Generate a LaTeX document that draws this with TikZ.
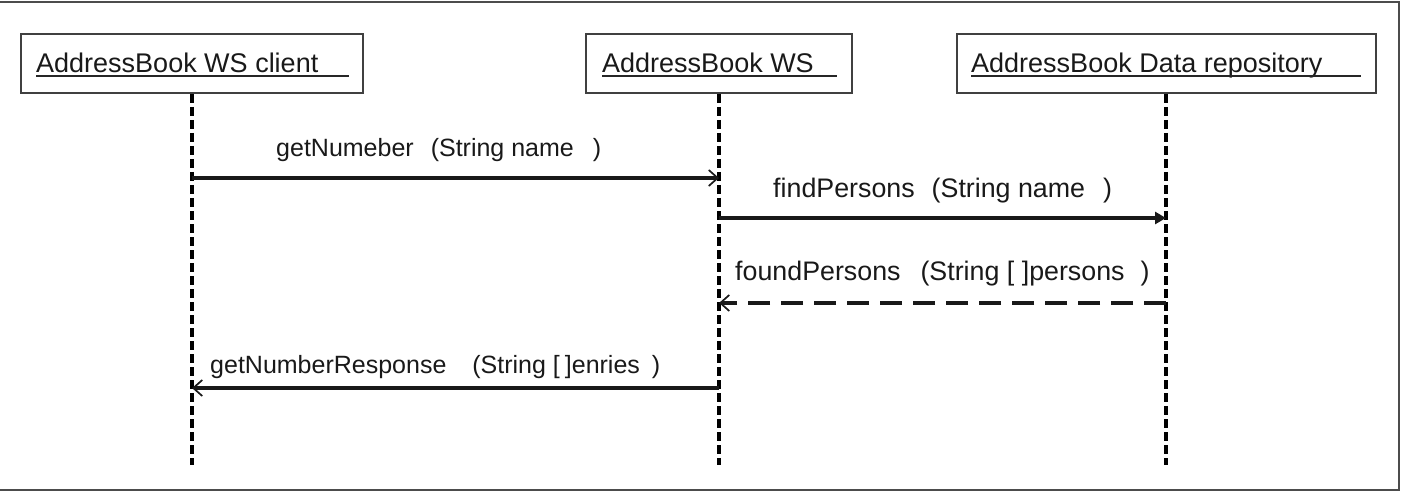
\documentclass[tikz,border=0pt]{standalone}
\usepackage{fontspec}
\setmainfont{Liberation Sans}
\usetikzlibrary{arrows.meta}
\begin{document}
\begin{tikzpicture}[x=1pt,y=-1pt,
  frame/.style={draw=black!70,line width=2.4pt},
  actor/.style={draw=black!75,line width=2pt,inner sep=0pt},
  atext/.style={anchor=base west,inner sep=0pt,font=\fontsize{27}{30}\selectfont,text=black!90},
  uline/.style={draw=black!85,line width=1.8pt},
  life/.style={draw=black,line width=3.2pt,dash pattern=on 9pt off 4pt},
  lbl/.style={anchor=base west,inner sep=0pt,font=\fontsize{25}{30}\selectfont,text=black!90},
  lblb/.style={anchor=base west,inner sep=0pt,font=\fontsize{26.8}{30}\selectfont,text=black!90},
  msg/.style={draw=black!90,line width=3.2pt},
  openhead/.style={-{Straight Barb[length=9pt,width=16pt,line width=1.7pt]}},
  fillhead/.style={-{Triangle[length=11pt,width=12pt]}},
  retdash/.style={dash pattern=on 22pt off 11pt,line width=3.8pt}
]
\useasboundingbox (0,0) rectangle (1401,492);
% outer frame
\coordinate (fTL) at (0,2);
\coordinate (fTR) at (1399,2);
\coordinate (fBR) at (1399,490);
\coordinate (fBL) at (0,490);
\draw[frame] (fTL) -- (fTR) -- (fBR) -- (fBL);

% actors
\node[actor,minimum width=342pt,minimum height=59pt] (c) at (192,63.5) {};
\node[actor,minimum width=266pt,minimum height=59pt] (ws) at (719,63.5) {};
\node[actor,minimum width=419pt,minimum height=59pt] (db) at (1166,63.5) {};

\node[atext] (ct) at (36,73) {AddressBook WS client};
\node[atext] (wst) at (602,73) {AddressBook WS};
\node[atext] (dbt) at (971,73) {AddressBook Data repository};
\draw[uline] ([yshift=-3pt]ct.base west) -- ++(313,0);
\draw[uline] ([yshift=-3pt]wst.base west) -- ++(235,0);
\draw[uline] ([yshift=-3pt]dbt.base west) -- ++(390,0);

% lifelines
\coordinate (cE) at (192,465);
\coordinate (wsE) at (719,465);
\coordinate (dbE) at (1166,465);
\draw[life] (c.south) -- (cE);
\draw[life] (ws.south) -- (wsE);
\draw[life] (db.south) -- (dbE);

% messages
\coordinate (m1a) at (c.south |- 0,178);
\coordinate (m1b) at (ws.south |- 0,178);
\draw[msg,openhead] (m1a) -- (m1b);
\node[lbl] (l1) at (276,157) {getNumeber\hspace{17pt}(String name\hspace{19pt})};

\coordinate (m2a) at (ws.south |- 0,218);
\coordinate (m2b) at (db.south |- 0,218);
\draw[msg,fillhead] (m2a) -- (m2b);
\node[lblb] (l2) at (773,197) {findPersons\hspace{17pt}(String name\hspace{18pt})};

\coordinate (m3a) at (db.south |- 0,303);
\coordinate (m3b) at (ws.south |- 0,303);
\draw[msg,retdash,openhead] (m3a) -- (m3b);
\node[lblb] (l3) at (735,280) {foundPersons\hspace{20pt}(String [\ ]persons\hspace{16pt})};

\coordinate (m4a) at (ws.south |- 0,388);
\coordinate (m4b) at (c.south |- 0,388);
\draw[msg,openhead] (m4a) -- (m4b);
\node[lbl] (l4) at (210,373) {getNumberResponse\hspace{26pt}(String [\hspace{5pt}]enries\hspace{12pt})};
\end{tikzpicture}
\end{document}
